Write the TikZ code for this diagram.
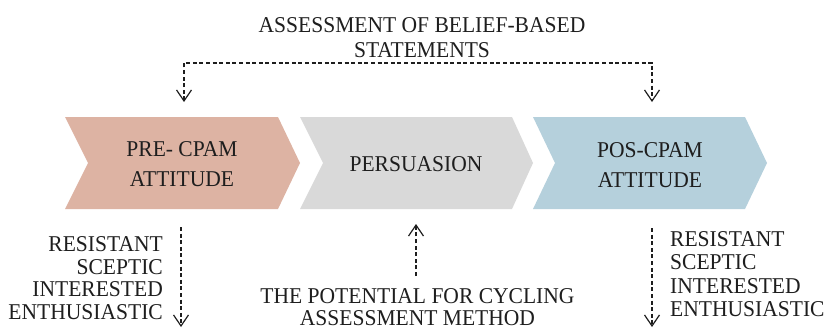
\documentclass[tikz,border=0pt]{standalone}
\usepackage{fontspec}
\setmainfont{Liberation Serif}[FakeStretch=0.953]
\usetikzlibrary{arrows.meta}
\definecolor{pinkc}{HTML}{DDB3A3}
\definecolor{grayc}{HTML}{D9D9D9}
\definecolor{bluec}{HTML}{B5D0DC}
\definecolor{txt}{HTML}{1E1E1E}
\begin{document}
\begin{tikzpicture}[x=1pt,y=-1pt,
  lbl/.style={inner sep=0pt, text=txt, font=\fontsize{22.6}{25}\selectfont},
  con/.style={draw=txt, line width=1.2pt, dash pattern=on 4pt off 2.6pt},
  >={Straight Barb[length=11pt,width=15pt,line width=1.2pt]}]
\useasboundingbox (0,0) rectangle (824,329);
% chevrons
\fill[pinkc] (65,117) -- (278,117) -- (300,163) -- (278,209) -- (65,209) -- (88,163) -- cycle;
\fill[grayc] (300,117) -- (512,117) -- (533,163) -- (512,209) -- (300,209) -- (323,163) -- cycle;
\fill[bluec] (533,117) -- (745,117) -- (767,163) -- (745,209) -- (533,209) -- (555,163) -- cycle;
% texts
\node[lbl, align=center] (title) at (422,38) {ASSESSMENT OF BELIEF-BASED\\STATEMENTS};
\node[lbl, align=center, font=\fontsize{22.6}{30}\selectfont] (pre) at (182,164.5) {PRE- CPAM\\ATTITUDE};
\node[lbl] (pers) at (416,164.5) {PERSUASION};
\node[lbl, align=center, font=\fontsize{22.6}{30}\selectfont] (pos) at (650,165) {POS-CPAM\\ATTITUDE};
\node[lbl, align=right, anchor=east, font=\fontsize{22.6}{22.5}\selectfont] (preL) at (163,278) {RESISTANT\\SCEPTIC\\INTERESTED\\ENTHUSIASTIC};
\node[lbl, align=left, anchor=west, font=\fontsize{22.6}{23.3}\selectfont] (posL) at (670,274) {RESISTANT\\SCEPTIC\\INTERESTED\\ENTHUSIASTIC};
\node[lbl, align=center, font=\fontsize{22.6}{22}\selectfont] (cpam) at (417.5,307.5) {THE POTENTIAL FOR CYCLING\\ASSESSMENT METHOD};
% connectors
\coordinate (t1) at (184,102);
\coordinate (t2) at (652,102);
\coordinate (bar) at (418,63);
\draw[con,<->] (t1) |- (bar) -| (t2);
\coordinate (l1) at (181,227);
\coordinate (l2) at (181,327);
\draw[con,->] (l1) -- (l2);
\coordinate (r1) at (652,228);
\coordinate (r2) at (652,327);
\draw[con,->] (r1) -- (r2);
\coordinate (m1) at (416,276);
\coordinate (m2) at (416,224);
\draw[con,->] (m1) -- (m2);
\end{tikzpicture}
\end{document}
